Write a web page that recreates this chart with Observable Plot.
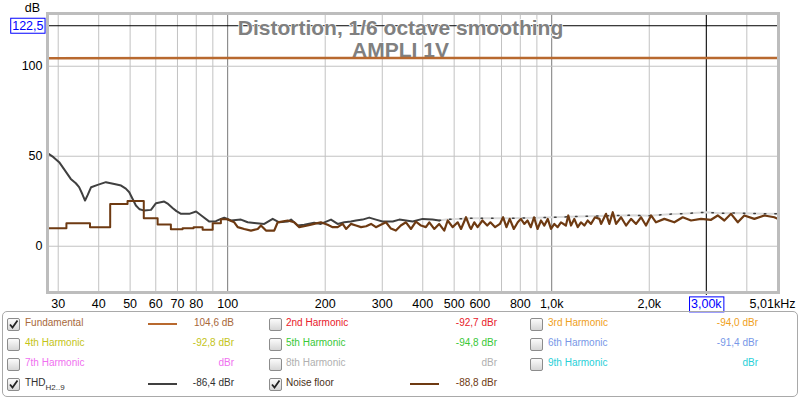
<!DOCTYPE html>
<html><head><meta charset="utf-8">
<script src="https://cdn.jsdelivr.net/npm/d3@7"></script>
<script src="https://cdn.jsdelivr.net/npm/@observablehq/plot@0.6"></script>
<style>
body{margin:0;background:#fff;font-family:"Liberation Sans",Arial,sans-serif;}
#wrap{position:relative;width:800px;height:398px;overflow:hidden;}
#chart{position:absolute;left:0;top:0;}
#legendBox{position:absolute;left:2px;top:311px;width:796px;height:86px;border:1px solid #a9a9a9;border-radius:5px;box-sizing:border-box;}
.lt{position:absolute;font-size:10px;line-height:12px;white-space:nowrap;}
.cb{position:absolute;width:11px;height:11px;border:1px solid #8c8c8c;border-radius:2px;background:linear-gradient(#fbfbfb,#d6d6d6);}
.ls{position:absolute;height:2px;}
sub{font-size:8px;vertical-align:-4px;line-height:0;}
</style>
</head><body>
<div id="wrap">
  <div id="chart"></div>
  <div id="legendBox"></div>
</div>
<script>
// ---- data ----
const titleLines = ["Distortion, 1/6 octave smoothing", "AMPLI 1V"];
const yUnit = "dB";

const xGridMinor = [30,40,50,60,70,80,90,200,300,400,500,600,700,800,900,2000,3000,4000];
const xGridMajor = [100,1000];
const yGrid = [0,50,100];
const xTickValues = [30,40,50,60,70,80,100,200,300,400,500,600,800,1000,2000,5010];
const xTickLabels = ["30","40","50","60","70","80","100","200","300","400","500","600","800","1,0k","2,0k","5,01kHz"];
const yTickValues = [0,50,100];
const yTickLabels = ["0","50","100"];

const cursorX = 3000, cursorXLabel = "3,00k";
const cursorY = 122.5, cursorYLabel = "122,5";

// Fundamental
const fundFreq = [27.8, 100, 1000, 5010];
const fundDb   = [104.4, 104.6, 104.6, 104.6];

// THD (solid part)
const thdFreq = [27.8,29,30.2,31.5,32.8,34,34.8,35.6,36.3,37,37.9,39.7,42.1,44.7,46.9,48.5,49.7,51,52.1,53.5,55.3,58,60.1,63.7,65.5,67.6,69.5,71.8,76.1,79.9,83.7,87.8,92,95.3,97.6,102.4,109.9,115.3,120.8,129.7,137.7,144.3,153.2,156.9,164.4,172.3,184.9,193.9,208.4,218.5,229,240,248.9,260.8,273.4,286.8,300.6,323.2,338.6,355,372.3,399.5,428.6,449.4];
const thdDb   = [51.7,49.5,46.7,42,37.4,35,32.8,29,25.4,28.5,32.8,34.1,35.6,34.6,33.7,32,30,26,22.6,20.5,19.8,20.2,23.9,24.8,23.5,21.3,19.5,18,18,19.3,16.5,13.7,13.9,15.2,15.8,14.3,14.8,13.3,12.9,12.4,15.2,13.3,13.7,14.8,11.5,11.9,13.0,12.4,14.8,12.4,13.3,13.7,14.3,14.8,15.9,14.8,13.7,13.7,14.8,14.3,13.7,15.2,14.8,14.3];
// THD (noise-limited part, drawn light)
const thdLimFreq = [449.4,471.6,506,560,700,900,1000,1200,1500,1800,2000,2300,2600,3000,3300,3700,4200,4600,5010];
const thdLimDb   = [14.3,14.8,15.2,15.5,15.5,15.8,16.1,16.5,17.0,17.2,17.0,17.8,18.2,18.9,18.3,18.5,18.2,18.0,18.0];

// Noise floor, low-frequency stepped part
const noiseStepFreq = [27.8,31.8,37.6,43.4,49.1,55.1,60.8,66.8,72.6,78.5,83.7,89.9,95.3,100];
const noiseStepDb   = [10.0,12.8,10.6,23.5,25.2,15.6,12.1,9.4,10.0,10.6,9.2,12.8,15.0,15.0];
// Noise floor, rest
const noiseFreq = [100,104.8,107.4,112.5,118,123.8,126.7,131.3,139.2,142.7,153.2,160.5,166.3,176.5,184.9,193.9,203.5,210.9,218.5,226.4,232,240,248.9,258,267.5,277,286.8,293.8,308,319,330.4,342.2,355,368,381,395,409,419,434,449.4,466,477.5,494.6,512.7,525,543.9,559,563.6,577,590.6,611.3,632.4,646.8,669,692,708,725,742,764,785.6,803,823,842,862,882,904,926.8,949,972,995,1019,1043,1068,1106,1125,1147,1174,1203,1231,1261,1291,1322,1360,1404,1420,1471,1506,1543,1580,1637,1696,1757,1821,1887,1954,2026,2098,2226,2390,2537,2691,2889,3102,3253,3410,3576,3752,3930,4220,4532,4864,4984];
const noiseDb   = [14.8,13.3,10.6,9.6,8.7,9.6,11.5,8.7,8.7,13.3,14.3,13.3,10.6,11.5,12.4,13.3,11.9,10.6,10.6,12.4,9.6,12.4,11.5,10.6,11.1,12.4,10.6,11.5,13.3,9.8,8.7,11.5,13.3,9.6,13.7,11.5,10.6,13.3,9.6,12.4,8.7,14.3,10.6,13.3,9.6,16.1,10.6,9.6,13.3,10.6,14.3,11.5,13.3,10.6,12.4,16.1,10.6,15.2,9.6,13.3,15.2,12.4,14.3,10.6,16.1,9.6,14.3,11.5,15.2,9.6,12.4,10.6,13.3,11.5,17.1,11.5,15.2,10.6,13.3,11.5,14.3,12.4,16.1,15.2,12.4,18,12.4,18.9,12.4,16.1,11.5,15.2,12.4,16.1,11.5,17.1,13.3,15.2,13.3,16.1,14.3,15.2,14.7,17.1,14.3,18,13.3,17.1,15.2,17.1,16.1,15.2];

// Legend
const legendNames   = ["Fundamental","2nd Harmonic","3rd Harmonic","4th Harmonic","5th Harmonic","6th Harmonic","7th Harmonic","8th Harmonic","9th Harmonic","THD","Noise floor"];
const legendValues  = ["104,6 dB","-92,7 dBr","-94,0 dBr","-92,8 dBr","-94,8 dBr","-91,4 dBr","dBr","dBr","dBr","-86,4 dBr","-88,8 dBr"];
const legendColors  = ["#a8683a","#e8202a","#f0a020","#c4c418","#38c838","#7898e8","#f070f0","#b0b0b0","#28d0d8","#303030","#4a3020"];
const legendValueColors = ["#a8683a","#e8202a","#f0a020","#c4c418","#38c838","#7898e8","#f070f0","#b0b0b0","#28d0d8","#303030","#6e3a12"];
const legendChecked = [true,false,false,false,false,false,false,false,false,true,true];
const legendLine    = ["#b8692f",null,null,null,null,null,null,null,null,"#404040","#6e3a12"];

// ---- colours ----
const fundColor = "#b8692f", thdColor = "#404040", thdLimColor = "#dadada", noiseColor = "#6e3a12";

const toRows = (F, D) => F.map((f, i) => ({f, db: D[i]}));
const fund = toRows(fundFreq, fundDb);
const thd = toRows(thdFreq, thdDb);
const thdLim = toRows(thdLimFreq, thdLimDb);
const noiseStep = toRows(noiseStepFreq, noiseStepDb);
const noise = toRows(noiseFreq, noiseDb);
const xTicks = xTickValues.map((v, i) => ({v, label: xTickLabels[i]}));
const yTicks = yTickValues.map((v, i) => ({v, label: yTickLabels[i]}));

const chart = Plot.plot({
  width: 800, height: 310,
  marginLeft: 47, marginRight: 22, marginTop: 13, marginBottom: 18,
  style: {fontFamily: '"Liberation Sans", Arial, sans-serif', fontSize: "12.5px", color: "#000", background: "transparent", overflow: "visible"},
  x: {type: "log", domain: [27.8, 5010], axis: null},
  y: {domain: [-25.7, 129.3], axis: null},
  marks: [
    Plot.gridX(xGridMinor, {stroke: "#c2c2c2", strokeOpacity: 1}),
    Plot.gridX(xGridMajor, {stroke: "#7a7a7a", strokeOpacity: 1}),
    Plot.gridY(yGrid, {stroke: "#c2c2c2", strokeOpacity: 1}),
    Plot.ruleY([cursorY], {stroke: "#000", strokeWidth: 1}),
    Plot.ruleX([cursorX], {stroke: "#000", strokeWidth: 1, insetBottom: -3}),
    Plot.text([titleLines.join("\n")], {frameAnchor: "top", lineAnchor: "top", dy: 5, dx: -12.5, fontSize: 21, fontWeight: "bold", fill: "#808080", lineHeight: 1.08, stroke: "#fff", strokeWidth: 1.5, paintOrder: "stroke"}),
    Plot.line(fund, {x: "f", y: "db", stroke: fundColor, strokeWidth: 2.5}),
    Plot.line(thdLim, {x: "f", y: "db", stroke: thdLimColor, strokeWidth: 2}),
    Plot.line(thdLim, {x: "f", y: "db", stroke: thdColor, strokeWidth: 1.5, strokeDasharray: "1.5,9"}),
    Plot.line(thd, {x: "f", y: "db", stroke: thdColor, strokeWidth: 2}),
    Plot.line(noiseStep, {x: "f", y: "db", stroke: noiseColor, strokeWidth: 2, curve: "step-after"}),
    Plot.line(noise, {x: "f", y: "db", stroke: noiseColor, strokeWidth: 2.2}),
    Plot.frame({stroke: "#bdbdbd", strokeWidth: 3}),
    Plot.text(xTicks, {x: "v", text: "label", frameAnchor: "bottom", lineAnchor: "top", dy: 7, fill: "#000"}),
    Plot.text(yTicks, {y: "v", text: "label", frameAnchor: "left", textAnchor: "end", dx: -5, fill: "#000"}),
    Plot.text([yUnit], {frameAnchor: "top-left", textAnchor: "middle", lineAnchor: "bottom", dx: -15, dy: -2}),
    Plot.text([cursorY], {y: d => d, text: () => cursorYLabel, frameAnchor: "left", textAnchor: "end", dx: -4, fill: "#0000ff"}),
    Plot.text([cursorX], {x: d => d, text: () => cursorXLabel, frameAnchor: "bottom", lineAnchor: "top", dy: 7, fill: "#0000ff"})
  ]
});
document.getElementById("chart").append(chart);

// shift the last x label (5,01kHz) left like the reference
d3.select(chart).selectAll("text").each(function() {
  if (this.textContent === xTickLabels[xTickLabels.length - 1]) {
    const t = this.getAttribute("transform") || "";
    this.setAttribute("transform", t + " translate(-6,0)");
  }
});

// blue boxes around cursor labels
d3.select(chart).selectAll("text").each(function() {
  if (this.textContent !== cursorXLabel && this.textContent !== cursorYLabel) return;
  const b = this.getBBox();
  const r = document.createElementNS("http://www.w3.org/2000/svg", "rect");
  r.setAttribute("x", b.x - 1.5);
  r.setAttribute("y", b.y - 0.5);
  r.setAttribute("width", b.width + 3);
  r.setAttribute("height", b.height + 1);
  r.setAttribute("fill", "#fff");
  r.setAttribute("stroke", "#0000ff");
  r.setAttribute("stroke-width", "1");
  const tr = this.getAttribute("transform");
  if (tr) r.setAttribute("transform", tr);
  this.parentNode.insertBefore(r, this);
});

// ---- legend ----
const wrap = document.getElementById("wrap");
const colCb = [7, 269, 530], colLabel = [25, 286, 548], colValueRight = [234, 497, 758];
const colLineX = [148, 410, null], lineW = 29;
const rowY = [324, 344, 364, 384];
const checkSvg = '<svg width="11" height="11" style="position:absolute;left:0;top:0"><path d="M2,5.5 L4.5,8.5 L9.5,1.5" fill="none" stroke="#222" stroke-width="1.8"/></svg>';
legendNames.forEach((name, i) => {
  const row = Math.floor(i / 3), col = i % 3, yc = rowY[row];
  const cb = document.createElement("div");
  cb.className = "cb";
  cb.style.left = colCb[col] + "px";
  cb.style.top = (yc - 6.5) + "px";
  if (legendChecked[i]) cb.innerHTML = checkSvg;
  wrap.appendChild(cb);
  const lab = document.createElement("div");
  lab.className = "lt";
  lab.style.left = colLabel[col] + "px";
  lab.style.top = (yc - 7) + "px";
  lab.style.color = legendColors[i];
  if (name === "THD") lab.innerHTML = 'THD<sub>H2..9</sub>';
  else lab.textContent = name;
  wrap.appendChild(lab);
  const val = document.createElement("div");
  val.className = "lt";
  val.style.right = (800 - colValueRight[col]) + "px";
  val.style.top = (yc - 7) + "px";
  val.style.color = legendValueColors[i];
  val.textContent = legendValues[i];
  wrap.appendChild(val);
  if (legendLine[i] && colLineX[col] != null) {
    const ls = document.createElement("div");
    ls.className = "ls";
    ls.style.left = colLineX[col] + "px";
    ls.style.width = lineW + "px";
    ls.style.top = (yc - 1) + "px";
    ls.style.background = legendLine[i];
    wrap.appendChild(ls);
  }
});
</script>
</body></html>
